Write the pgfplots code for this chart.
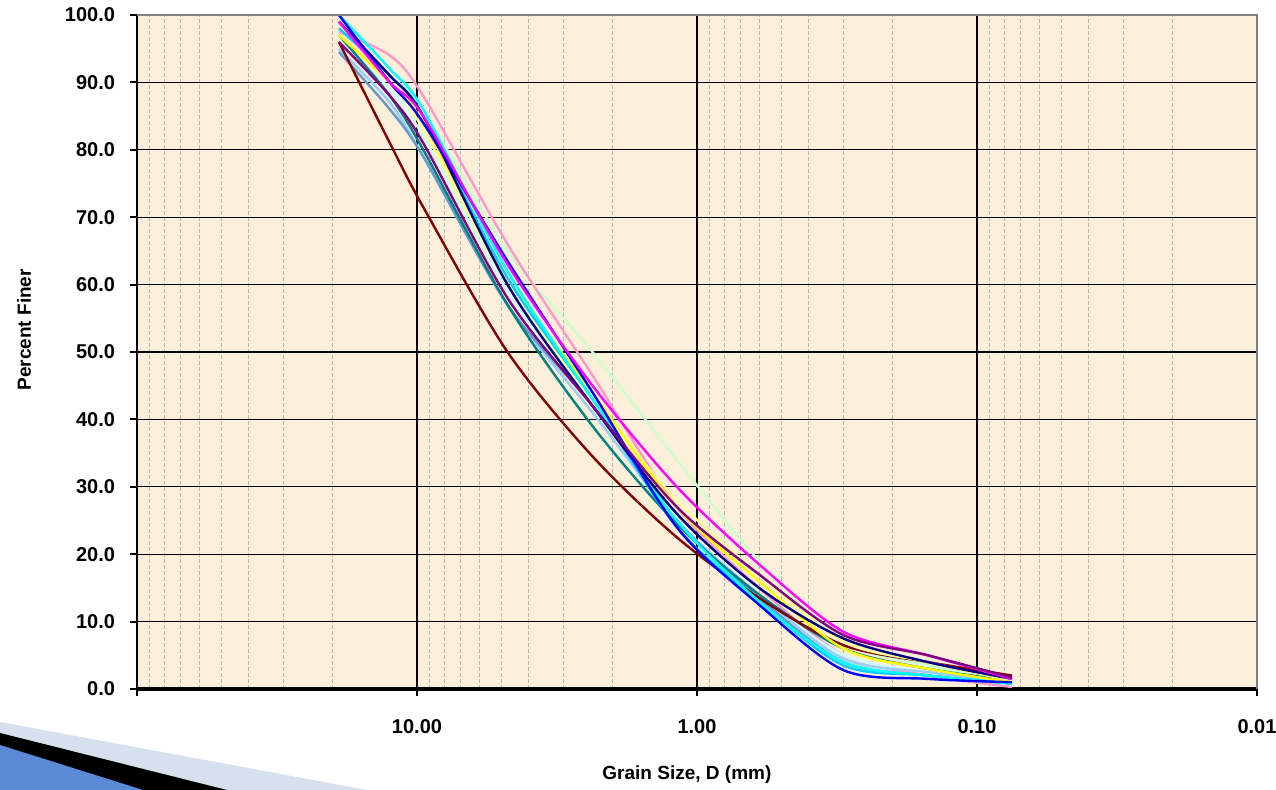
\documentclass[border=0pt]{standalone}
\usepackage{pgfplots}
\pgfplotsset{compat=1.18}
\usepackage{fontspec}
\setmainfont{Liberation Sans}

\definecolor{parch}{HTML}{FBEFD9}
\definecolor{mingrid}{HTML}{B2B6C2}
\definecolor{wedgelight}{HTML}{D7E0EE}
\definecolor{wedgeblue}{HTML}{5B8AD4}
\definecolor{cBr}{HTML}{800000}
\definecolor{cBl}{HTML}{0000FF}
\definecolor{cMg}{HTML}{FF00FF}
\definecolor{cPk}{HTML}{FF99CC}
\definecolor{cLg}{HTML}{CCFFCC}
\definecolor{cCy}{HTML}{00FFFF}
\definecolor{cYe}{HTML}{FFFF00}
\definecolor{cTe}{HTML}{008080}
\definecolor{cPu}{HTML}{800080}
\definecolor{cNv}{HTML}{000080}
\definecolor{cLb}{HTML}{99CCFF}
\definecolor{cSb}{HTML}{00CCFF}
\definecolor{cLt}{HTML}{CCFFFF}
\definecolor{cLy}{HTML}{FFFF99}
\definecolor{cSt}{HTML}{6699CC}

% sieve sizes (mm) and percent finer for each sample
\pgfplotstableread{
D     br   bl   mg   pk   lg   cy   ye   te   pu   nv   lb   sb   lt   ly   st
19    96   100  99   97.5 98   100  97   97   96   99   95   98   96   97   94.5
12.5  81   90   90   94   91   92   90   88   88   91   87   91   89   90   86
9.5   71.5 84   85   88   86   86   84   80   81   85   79   85   82   83   79
4.75  50   63.5 63   66   65   62   61   57   58   60   57   61   59   60   57
2.36  34.5 44   45   46.5 50   43   44   39   42   42   41   43   42   43   42
1.18  22.5 24   30   27   34   25   27   24.5 27   26   25   24   25   28   25
0.6   13.5 12.5 18.5 15   19   13   16   14   17   15   14   13   14   17   13.5
0.3   6.5  2.8  8.5  5    7    4    6    6    8    7.5  4.5  3.5  5    7    4
0.15  4    1.5  5    2    3.5  2    3    3    5    4    2.5  2    2.5  4    2
0.075 2    1    1.5  0.3  1    0.8  1    1.2  1.7  1.5  1    0.8  1    1.2  0.8
}\grain

\begin{document}
\begin{tikzpicture}
\useasboundingbox (-68.5pt,-50.5pt) rectangle (569.5pt,344.5pt);
% slide decoration, bottom left
\fill[wedgelight] (-68.5pt,-16.5pt) -- (115pt,-50.5pt) -- (-68.5pt,-50.5pt) -- cycle;
\fill[black] (-68.5pt,-22pt) -- (45pt,-50.5pt) -- (-68.5pt,-50.5pt) -- cycle;
\fill[wedgeblue] (-68.5pt,-28pt) -- (3pt,-50.5pt) -- (-68.5pt,-50.5pt) -- cycle;

\begin{axis}[
    at={(0pt,0pt)}, anchor=south west,
    scale only axis, width=560pt, height=337pt,
    xmode=log, x dir=reverse,
    xmin=0.01, xmax=100, ymin=0, ymax=100,
    axis background/.style={fill=parch},
    axis lines=left,
    axis line style={-},
    x axis line style={line width=2pt},
    y axis line style={line width=1pt},
    xtick={0.01,0.1,1,10,100},
    xticklabels={0.01,0.10,1.00,10.00,},
    minor xtick={0.02,0.03,0.04,0.05,0.06,0.07,0.08,0.09,
                 0.2,0.3,0.4,0.5,0.6,0.7,0.8,0.9,
                 2,3,4,5,6,7,8,9,20,30,40,50,60,70,80,90},
    ytick={0,10,...,100},
    yticklabels={0.0,10.0,20.0,30.0,40.0,50.0,60.0,70.0,80.0,90.0,100.0},
    tick align=outside,
    major tick length=3.5pt, minor tick length=0pt,
    tick style={black, line width=1pt},
    grid=both,
    major grid style={black, line width=0.6pt},
    minor grid style={mingrid, line width=0.5pt, dash pattern=on 2pt off 1pt},
    ticklabel style={font=\bfseries\fontsize{10}{12}\selectfont},
    xticklabel style={yshift=-8pt},
    yticklabel style={xshift=-4pt},
    xlabel={Grain Size, D (mm)},
    ylabel={Percent Finer},
    label style={font=\bfseries\fontsize{9.5}{11}\selectfont},
    xlabel style={at={(axis description cs:0.491,0)}, anchor=center, yshift=-43pt},
    ylabel style={at={(axis description cs:-0.1009,0.533)}, anchor=center},
    every axis plot/.append style={smooth, tension=0.5, line width=1.2pt, mark=none},
    clip=false,
]
\addplot[cLg] table[x=D,y=lg] {\grain};
\addplot[cPk] table[x=D,y=pk] {\grain};
\addplot[cLt] table[x=D,y=lt] {\grain};
\addplot[cLb] table[x=D,y=lb] {\grain};
\addplot[cSt] table[x=D,y=st] {\grain};
\addplot[cTe] table[x=D,y=te] {\grain};
\addplot[cBr] table[x=D,y=br] {\grain};
\addplot[cLy] table[x=D,y=ly] {\grain};
\addplot[cYe] table[x=D,y=ye] {\grain};
\addplot[cSb] table[x=D,y=sb] {\grain};
\addplot[cCy] table[x=D,y=cy] {\grain};
\addplot[cNv] table[x=D,y=nv] {\grain};
\addplot[cBl] table[x=D,y=bl] {\grain};
\addplot[cMg] table[x=D,y=mg] {\grain};
\addplot[cPu] table[x=D,y=pu] {\grain};
\draw[gray, line width=1pt] (axis description cs:0,1) -- (axis description cs:1,1) -- (axis description cs:1,0);
\end{axis}
\end{tikzpicture}
\end{document}
